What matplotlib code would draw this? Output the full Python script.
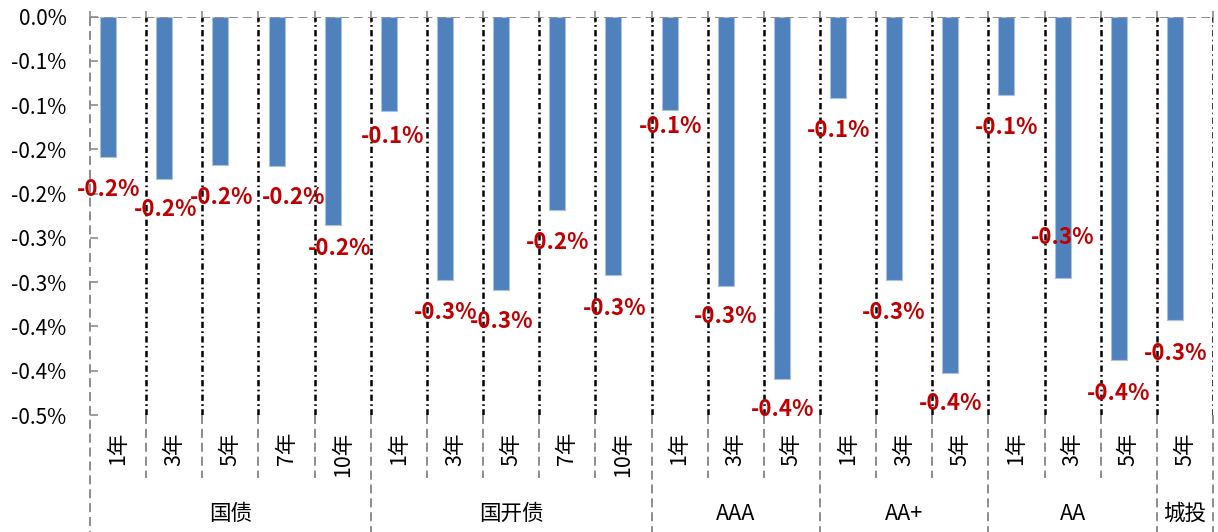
import matplotlib
matplotlib.use("Agg")
import matplotlib.pyplot as plt

plt.rcParams['font.family'] = ['Noto Sans CJK SC', 'DejaVu Sans']
plt.rcParams['lines.scale_dashes'] = False

groups = ['国债', '国开债', 'AAA', 'AA+', 'AA', '城投']
group_sizes = [5, 5, 3, 3, 3, 1]
tenors = ['1年', '3年', '5年', '7年', '10年',
          '1年', '3年', '5年', '7年', '10年',
          '1年', '3年', '5年',
          '1年', '3年', '5年',
          '1年', '3年', '5年',
          '5年']
values = [-0.159, -0.183, -0.167, -0.169, -0.235,
          -0.107, -0.298, -0.309, -0.218, -0.292,
          -0.105, -0.304, -0.409,
          -0.092, -0.298, -0.402,
          -0.089, -0.295, -0.388,
          -0.343]
ytick_vals = [0, -0.05, -0.10, -0.15, -0.20, -0.25, -0.30, -0.35, -0.40, -0.45]
ytick_labels = ['0.0%', '-0.1%', '-0.1%', '-0.2%', '-0.2%', '-0.3%', '-0.3%', '-0.4%', '-0.4%', '-0.5%']

# hand-placed data label nudges (pixels)
label_dx = [1, 1, 1, 17, 7, 4, 1, 1, 0, 1, 1, 0, 1, 1, 0, 0, 0, 0, 0, 1]
label_dy = [-32, -31, -33, -31, -24, -25, -32, -31, -33, -33,
            -17, -31, -31, -32, -32, -31, -32, 40, -33, -33]

W, H = 1218, 532
x0, x1 = 90, 1213
ytop, ybot = 16.7, 415
fig = plt.figure(figsize=(W / 100, H / 100), dpi=100)
ax = fig.add_axes([x0 / W, (H - ybot) / H, (x1 - x0) / W, (ybot - ytop) / H])

n = len(values)
slot_px = (x1 - x0) / n
bar_x = [i + 0.5 - 10 / slot_px for i in range(n)]
ax.bar(bar_x, values, width=16 / slot_px, color='#4F81BD', edgecolor='#A9C1DF', linewidth=0.8, zorder=3)

ax.set_xlim(0, n)
ax.set_ylim(-0.45, 0)

gray = '#8C8C8C'
dashed = (0, (6.5, 3.5))
dashdot = (0, (4.5, 2.4, 1.2, 2.4))

# dash-dot separators inside the plot
ax.vlines(range(1, n + 1), -0.45, 0, colors='black', linestyles=[dashdot], linewidth=1.8, zorder=2)
ax.axhline(0, color=gray, linestyle=dashed, linewidth=1.4, zorder=4)

for s in ax.spines.values():
    s.set_visible(False)

ax.set_yticks(ytick_vals)
ax.set_yticklabels(ytick_labels, fontsize=15)
ax.tick_params(axis='y', direction='in', length=6, color=gray, width=1.2, pad=17)
ax.xaxis.tick_top()
ax.set_xticks(range(n + 1))
ax.tick_params(axis='x', direction='inout', length=8, color=gray, width=1.2, labeltop=False)

trans = ax.get_xaxis_transform()
ybot_ax = (ybot - H) / (ybot - ytop)
ytick_end = (ybot - 478) / (ybot - ytop)

# separators below the plot
bounds = [0]
for g in group_sizes:
    bounds.append(bounds[-1] + g)
for i in range(n + 1):
    if i in bounds:
        top = 1 if i == 0 else 0
        ax.plot([i, i], [top, ybot_ax], transform=trans, color=gray, linestyle=dashed,
                linewidth=1.4, clip_on=False)
    else:
        ax.plot([i, i], [0, ytick_end], transform=trans, color=gray, linestyle=dashed,
                linewidth=1.4, clip_on=False)

for i, t in enumerate(tenors):
    ax.text(i + 0.5, (ybot - 432) / (ybot - ytop), t, transform=trans, rotation=90,
            ha='center', va='top', fontsize=15.5)

for g, a, b in zip(groups, bounds[:-1], bounds[1:]):
    ax.text((a + b) / 2, (ybot - 514) / (ybot - ytop), g, transform=trans,
            ha='center', va='center', fontsize=15.5)

for x, v, dx, dy in zip(bar_x, values, label_dx, label_dy):
    ax.annotate(f"{v:.1f}%", xy=(x, v), xytext=(dx, dy), textcoords='offset pixels',
                ha='center', va='center', fontsize=16, fontweight='bold',
                color='#C00000', zorder=5, annotation_clip=False)

fig.savefig('out.png', dpi=100)
